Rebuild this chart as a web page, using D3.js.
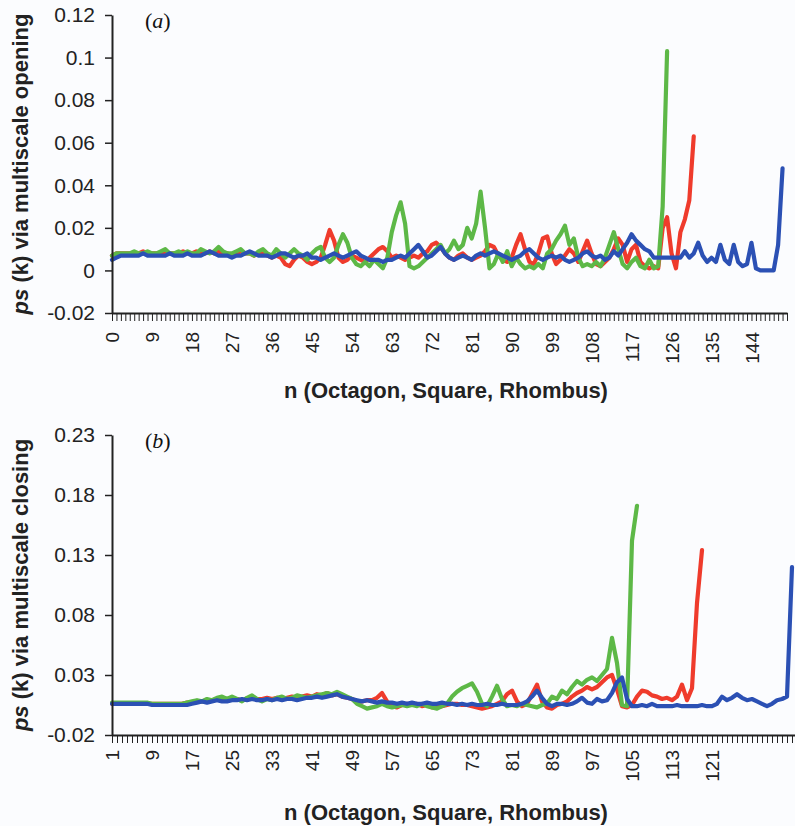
<!DOCTYPE html>
<html><head><meta charset="utf-8">
<script src="https://cdn.jsdelivr.net/npm/d3@7"></script>
<style>body{margin:0;background:#fbfcfe;} svg{display:block;}</style>
</head><body>
<script>
// ---------- DATA ----------
// Panel (a): multiscale opening, n starts at 0
const xLabelsA = [0,9,18,27,36,45,54,63,72,81,90,99,108,117,126,135,144];
const yLabelsA = ["-0.02","0","0.02","0.04","0.06","0.08","0.1","0.12"];
const redA = [
0.007,0.008,0.008,0.008,0.008,0.008,0.008,0.009,0.008,0.008,0.008,
0.008,0.009,0.008,0.008,0.008,0.009,0.008,0.008,0.009,0.008,0.008,
0.009,0.008,0.009,0.008,0.008,0.007,0.008,0.009,0.008,0.008,0.007,
0.008,0.008,0.007,0.006,0.007,0.006,0.003,0.002,0.005,0.007,0.006,
0.004,0.003,0.004,0.006,0.012,0.019,0.014,0.006,0.004,0.005,0.007,
0.006,0.005,0.004,0.006,0.008,0.010,0.011,0.009,0.006,0.007,0.006,
0.005,0.006,0.007,0.006,0.008,0.009,0.012,0.013,0.011,0.008,0.006,
0.005,0.007,0.008,0.006,0.005,0.006,0.007,0.009,0.012,0.011,0.007,
0.005,0.004,0.006,0.012,0.017,0.010,0.004,0.003,0.008,0.015,0.016,
0.008,0.003,0.005,0.007,0.010,0.008,0.004,0.009,0.014,0.008,0.003,
0.002,0.004,0.006,0.010,0.015,0.012,0.004,0.010,0.012,0.004,0.002,
0.001,0.002,0.001,0.020,0.025,0.008,0.001,0.018,0.024,0.033,0.063];
const greenA = [
0.007,0.008,0.008,0.008,0.008,0.009,0.008,0.008,0.009,0.008,0.008,
0.009,0.010,0.008,0.008,0.009,0.008,0.009,0.008,0.008,0.010,0.009,
0.008,0.009,0.011,0.009,0.008,0.008,0.009,0.010,0.008,0.008,0.007,
0.009,0.010,0.008,0.007,0.010,0.008,0.006,0.008,0.010,0.008,0.007,
0.005,0.008,0.010,0.011,0.006,0.004,0.006,0.012,0.017,0.013,0.006,
0.003,0.002,0.004,0.002,0.005,0.003,0.001,0.006,0.018,0.026,0.032,
0.022,0.002,0.001,0.002,0.004,0.006,0.008,0.010,0.012,0.008,0.010,
0.014,0.010,0.012,0.020,0.015,0.022,0.037,0.020,0.001,0.003,0.008,
0.004,0.009,0.002,0.006,0.003,0.001,0.002,0.001,0.003,0.001,0.008,
0.010,0.014,0.017,0.021,0.012,0.015,0.006,0.002,0.003,0.002,0.004,
0.002,0.006,0.012,0.018,0.010,0.003,0.001,0.004,0.006,0.002,0.001,
0.005,0.001,0.002,0.030,0.103];
const blueA = [
0.005,0.006,0.007,0.007,0.007,0.007,0.007,0.008,0.007,0.007,0.007,
0.007,0.007,0.008,0.007,0.007,0.007,0.008,0.007,0.007,0.007,0.008,
0.009,0.008,0.007,0.007,0.007,0.006,0.007,0.007,0.008,0.009,0.008,
0.007,0.007,0.007,0.006,0.007,0.008,0.008,0.007,0.006,0.007,0.007,
0.008,0.006,0.006,0.005,0.006,0.007,0.008,0.007,0.006,0.007,0.008,
0.009,0.007,0.006,0.005,0.005,0.005,0.004,0.005,0.005,0.006,0.007,
0.006,0.008,0.010,0.012,0.009,0.006,0.007,0.009,0.011,0.008,0.006,
0.005,0.006,0.007,0.006,0.005,0.007,0.008,0.007,0.008,0.009,0.008,
0.007,0.006,0.005,0.006,0.007,0.009,0.010,0.008,0.006,0.005,0.006,
0.007,0.006,0.007,0.005,0.004,0.005,0.006,0.008,0.009,0.007,0.006,
0.007,0.005,0.006,0.009,0.007,0.010,0.013,0.017,0.014,0.012,0.010,
0.009,0.006,0.006,0.006,0.006,0.006,0.006,0.006,0.009,0.006,0.008,
0.013,0.007,0.004,0.006,0.004,0.012,0.005,0.003,0.012,0.004,0.002,
0.003,0.013,0.001,0,0,0,0,0.012,0.048];

// Panel (b): multiscale closing, n starts at 1
const xLabelsB = [1,9,17,25,33,41,49,57,65,73,81,89,97,105,113,121];
const yLabelsB = ["-0.02","0.03","0.08","0.13","0.18","0.23"];
const redB = [
0.006,0.006,0.006,0.006,0.006,0.006,0.006,0.006,0.006,0.006,
0.006,0.006,0.006,0.006,0.006,0.007,0.007,0.008,0.008,0.009,
0.009,0.010,0.010,0.009,0.010,0.010,0.009,0.010,0.011,0.010,
0.010,0.011,0.010,0.011,0.010,0.011,0.012,0.011,0.012,0.013,
0.012,0.014,0.013,0.015,0.013,0.014,0.012,0.011,0.010,0.008,
0.008,0.009,0.009,0.011,0.015,0.008,0.004,0.003,0.005,0.006,
0.005,0.006,0.004,0.005,0.003,0.003,0.004,0.005,0.006,0.006,
0.005,0.005,0.004,0.003,0.002,0.003,0.004,0.006,0.008,0.014,
0.017,0.008,0.004,0.006,0.014,0.022,0.008,0.003,0.002,0.005,
0.006,0.008,0.012,0.015,0.017,0.020,0.018,0.020,0.024,0.028,
0.030,0.018,0.004,0.003,0.005,0.012,0.017,0.016,0.013,0.012,
0.010,0.011,0.009,0.012,0.022,0.009,0.019,0.090,0.134];
const greenB = [
0.007,0.007,0.007,0.007,0.007,0.007,0.007,0.007,0.006,0.006,
0.006,0.006,0.006,0.006,0.006,0.007,0.008,0.009,0.008,0.010,
0.009,0.011,0.012,0.010,0.012,0.010,0.008,0.011,0.013,0.010,
0.008,0.010,0.009,0.011,0.012,0.010,0.011,0.013,0.012,0.011,
0.012,0.013,0.014,0.015,0.014,0.016,0.014,0.012,0.010,0.006,
0.004,0.002,0.003,0.004,0.006,0.004,0.003,0.004,0.005,0.004,
0.005,0.004,0.006,0.004,0.003,0.002,0.004,0.006,0.012,0.016,
0.019,0.021,0.023,0.016,0.006,0.004,0.012,0.021,0.010,0.004,
0.005,0.004,0.006,0.005,0.004,0.003,0.005,0.006,0.012,0.010,
0.017,0.014,0.020,0.025,0.022,0.026,0.028,0.025,0.030,0.035,
0.061,0.040,0.005,0.004,0.142,0.171];
const blueB = [
0.006,0.006,0.006,0.006,0.006,0.006,0.006,0.006,0.005,0.005,
0.005,0.005,0.005,0.005,0.005,0.005,0.006,0.007,0.008,0.007,
0.008,0.009,0.008,0.008,0.009,0.009,0.010,0.009,0.010,0.009,
0.009,0.010,0.009,0.010,0.009,0.010,0.010,0.009,0.010,0.011,
0.011,0.012,0.011,0.012,0.013,0.014,0.012,0.011,0.010,0.009,
0.008,0.009,0.008,0.007,0.008,0.007,0.007,0.006,0.007,0.006,
0.007,0.006,0.006,0.007,0.006,0.006,0.007,0.006,0.006,0.005,
0.006,0.005,0.006,0.005,0.005,0.006,0.005,0.005,0.006,0.005,
0.005,0.005,0.006,0.008,0.012,0.017,0.011,0.006,0.004,0.006,
0.006,0.005,0.006,0.008,0.011,0.007,0.006,0.010,0.008,0.009,
0.015,0.024,0.028,0.010,0.004,0.004,0.005,0.004,0.006,0.004,
0.004,0.004,0.004,0.005,0.004,0.004,0.004,0.004,0.005,0.004,
0.004,0.006,0.012,0.009,0.011,0.014,0.011,0.009,0.010,0.008,
0.006,0.004,0.006,0.009,0.010,0.012,0.120];

const seriesColors = ["#ef3b2c", "#5db847", "#2b50b4"];

// ---------- DRAW ----------
const svg = d3.select("body").append("svg")
  .attr("width", 795).attr("height", 826)
  .style("background", "#fbfcfe");

function panel(cfg) {
  const g = svg.append("g");
  const x = d3.scaleLinear().domain(cfg.xDomain).range([112, cfg.xRight]);
  const yVals = cfg.yLabels.map(Number);
  const y = d3.scaleLinear().domain([yVals[0], yVals[yVals.length-1]]).range([cfg.yBottom, cfg.yTop]);

  // series
  const line = d3.line().x((d,i) => x(cfg.start + i)).y(d => y(d));
  cfg.series.forEach((s, k) => {
    g.append("path").datum(s)
      .attr("d", line)
      .attr("fill", "none")
      .attr("stroke", seriesColors[k])
      .attr("stroke-width", 4.2)
      .attr("stroke-linejoin", "round")
      .attr("stroke-linecap", "round");
  });

  // x axis
  const labelSet = new Set(cfg.xLabels);
  const xAxis = d3.axisBottom(x)
    .tickValues(d3.range(cfg.start, Math.floor(cfg.xDomain[1]) + 1))
    .tickSize(8)
    .tickSizeOuter(0)
    .tickFormat(d => labelSet.has(d) ? String(d) : "");
  const gx = g.append("g").attr("transform", `translate(0,${cfg.yBottom})`).call(xAxis);
  gx.select(".domain").attr("stroke", "#222").attr("stroke-width", 2);
  gx.selectAll(".tick line").attr("stroke", "#222").attr("stroke-width", 1);
  gx.selectAll(".tick text")
    .attr("transform", "rotate(-90)")
    .attr("text-anchor", "end")
    .attr("x", -cfg.xLabelGap)
    .attr("y", 0)
    .attr("dy", "0.36em")
    .attr("fill", "#222")
    .style("font-family", "Arial, 'Liberation Sans', sans-serif")
    .style("font-size", "19px");

  // y axis
  const yAxis = d3.axisLeft(y)
    .tickValues(yVals)
    .tickSize(7)
    .tickSizeOuter(0)
    .tickFormat((d,i) => cfg.yLabels[i]);
  const gy = g.append("g").attr("transform", "translate(112,0)").call(yAxis);
  gy.select(".domain").attr("stroke", "#222").attr("stroke-width", 2);
  gy.selectAll(".tick line").attr("stroke", "#222").attr("stroke-width", 1.5);
  gy.selectAll(".tick text")
    .attr("x", -17)
    .attr("fill", "#222")
    .style("font-family", "Arial, 'Liberation Sans', sans-serif")
    .style("font-size", "21px");

  // y title
  const yt = g.append("text")
    .attr("transform", `translate(28,${(cfg.yTop + cfg.yBottom)/2}) rotate(-90)`)
    .attr("text-anchor", "middle")
    .attr("fill", "#222")
    .style("font-family", "Arial, 'Liberation Sans', sans-serif")
    .style("font-size", "22px")
    .style("font-weight", "bold");
  yt.append("tspan").style("font-style", "italic").text("ps");
  yt.append("tspan").text(" (k) via multiscale " + cfg.mode);

  // x title
  g.append("text")
    .attr("x", 446).attr("y", cfg.xTitleY)
    .attr("text-anchor", "middle")
    .attr("fill", "#222")
    .style("font-family", "Arial, 'Liberation Sans', sans-serif")
    .style("font-size", "22px")
    .style("font-weight", "bold")
    .text("n (Octagon, Square, Rhombus)");

  // panel label
  const pl = g.append("text")
    .attr("x", 145).attr("y", cfg.yTop + 13)
    .attr("fill", "#111")
    .style("font-family", "'Liberation Serif', 'Times New Roman', serif")
    .style("font-size", "22px");
  pl.append("tspan").text("(");
  pl.append("tspan").style("font-style", "italic").text(cfg.tag);
  pl.append("tspan").text(")");
}

panel({
  start: 0, xDomain: [0, 152], xRight: 787,
  yLabels: yLabelsA, yTop: 15, yBottom: 313,
  xLabels: xLabelsA, xLabelGap: 19, xTitleY: 398,
  series: [redA, greenA, blueA], mode: "opening", tag: "a"
});
panel({
  start: 1, xDomain: [1, 137.6], xRight: 795,
  yLabels: yLabelsB, yTop: 435, yBottom: 735,
  xLabels: xLabelsB, xLabelGap: 15, xTitleY: 820,
  series: [redB, greenB, blueB], mode: "closing", tag: "b"
});
</script>
</body></html>
